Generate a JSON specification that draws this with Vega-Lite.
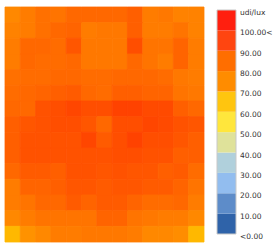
{
  "$schema": "https://vega.github.io/schema/vega-lite/v6.json",
  "padding": {"left": 4, "top": 6, "right": 0, "bottom": 0},
  "spacing": 11,
  "config": {"view": {"stroke": null}, "font": "DejaVu Sans"},
  "resolve": {"scale": {"color": "independent", "x": "independent", "y": "independent"}},
  "hconcat": [
    {
      "width": 199,
      "height": 235,
      "data": {"values": [
        {"r":1,"c":1,"v":78},{"r":1,"c":2,"v":80},{"r":1,"c":3,"v":83},{"r":1,"c":4,"v":82},{"r":1,"c":5,"v":85},{"r":1,"c":6,"v":85},{"r":1,"c":7,"v":85},{"r":1,"c":8,"v":85},{"r":1,"c":9,"v":87},{"r":1,"c":10,"v":80},{"r":1,"c":11,"v":81},{"r":1,"c":12,"v":79},{"r":1,"c":13,"v":79},
        {"r":2,"c":1,"v":79},{"r":2,"c":2,"v":80},{"r":2,"c":3,"v":83},{"r":2,"c":4,"v":85},{"r":2,"c":5,"v":86},{"r":2,"c":6,"v":80},{"r":2,"c":7,"v":81},{"r":2,"c":8,"v":81},{"r":2,"c":9,"v":87},{"r":2,"c":10,"v":80},{"r":2,"c":11,"v":80},{"r":2,"c":12,"v":82},{"r":2,"c":13,"v":79},
        {"r":3,"c":1,"v":80},{"r":3,"c":2,"v":85},{"r":3,"c":3,"v":85},{"r":3,"c":4,"v":84},{"r":3,"c":5,"v":89},{"r":3,"c":6,"v":81},{"r":3,"c":7,"v":81},{"r":3,"c":8,"v":81},{"r":3,"c":9,"v":91},{"r":3,"c":10,"v":82},{"r":3,"c":11,"v":82},{"r":3,"c":12,"v":86},{"r":3,"c":13,"v":80},
        {"r":4,"c":1,"v":80},{"r":4,"c":2,"v":85},{"r":4,"c":3,"v":84},{"r":4,"c":4,"v":84},{"r":4,"c":5,"v":85},{"r":4,"c":6,"v":81},{"r":4,"c":7,"v":81},{"r":4,"c":8,"v":81},{"r":4,"c":9,"v":85},{"r":4,"c":10,"v":82},{"r":4,"c":11,"v":80},{"r":4,"c":12,"v":86},{"r":4,"c":13,"v":80},
        {"r":5,"c":1,"v":83},{"r":5,"c":2,"v":84},{"r":5,"c":3,"v":84},{"r":5,"c":4,"v":85},{"r":5,"c":5,"v":85},{"r":5,"c":6,"v":84},{"r":5,"c":7,"v":84},{"r":5,"c":8,"v":85},{"r":5,"c":9,"v":85},{"r":5,"c":10,"v":85},{"r":5,"c":11,"v":84},{"r":5,"c":12,"v":81},{"r":5,"c":13,"v":80},
        {"r":6,"c":1,"v":84},{"r":6,"c":2,"v":85},{"r":6,"c":3,"v":86},{"r":6,"c":4,"v":87},{"r":6,"c":5,"v":88},{"r":6,"c":6,"v":85},{"r":6,"c":7,"v":84},{"r":6,"c":8,"v":87},{"r":6,"c":9,"v":87},{"r":6,"c":10,"v":86},{"r":6,"c":11,"v":86},{"r":6,"c":12,"v":82},{"r":6,"c":13,"v":81},
        {"r":7,"c":1,"v":85},{"r":7,"c":2,"v":85},{"r":7,"c":3,"v":90},{"r":7,"c":4,"v":91},{"r":7,"c":5,"v":93},{"r":7,"c":6,"v":91},{"r":7,"c":7,"v":91},{"r":7,"c":8,"v":94},{"r":7,"c":9,"v":94},{"r":7,"c":10,"v":92},{"r":7,"c":11,"v":92},{"r":7,"c":12,"v":87},{"r":7,"c":13,"v":85},
        {"r":8,"c":1,"v":87},{"r":8,"c":2,"v":89},{"r":8,"c":3,"v":90},{"r":8,"c":4,"v":91},{"r":8,"c":5,"v":91},{"r":8,"c":6,"v":89},{"r":8,"c":7,"v":85},{"r":8,"c":8,"v":91},{"r":8,"c":9,"v":91},{"r":8,"c":10,"v":93},{"r":8,"c":11,"v":92},{"r":8,"c":12,"v":90},{"r":8,"c":13,"v":89},
        {"r":9,"c":1,"v":87},{"r":9,"c":2,"v":90},{"r":9,"c":3,"v":90},{"r":9,"c":4,"v":90},{"r":9,"c":5,"v":90},{"r":9,"c":6,"v":93},{"r":9,"c":7,"v":88},{"r":9,"c":8,"v":91},{"r":9,"c":9,"v":94},{"r":9,"c":10,"v":91},{"r":9,"c":11,"v":91},{"r":9,"c":12,"v":89},{"r":9,"c":13,"v":87},
        {"r":10,"c":1,"v":87},{"r":10,"c":2,"v":90},{"r":10,"c":3,"v":90},{"r":10,"c":4,"v":90},{"r":10,"c":5,"v":90},{"r":10,"c":6,"v":90},{"r":10,"c":7,"v":90},{"r":10,"c":8,"v":91},{"r":10,"c":9,"v":91},{"r":10,"c":10,"v":90},{"r":10,"c":11,"v":90},{"r":10,"c":12,"v":87},{"r":10,"c":13,"v":87},
        {"r":11,"c":1,"v":85},{"r":11,"c":2,"v":88},{"r":11,"c":3,"v":88},{"r":11,"c":4,"v":87},{"r":11,"c":5,"v":90},{"r":11,"c":6,"v":90},{"r":11,"c":7,"v":89},{"r":11,"c":8,"v":90},{"r":11,"c":9,"v":89},{"r":11,"c":10,"v":89},{"r":11,"c":11,"v":87},{"r":11,"c":12,"v":88},{"r":11,"c":13,"v":84},
        {"r":12,"c":1,"v":80},{"r":12,"c":2,"v":86},{"r":12,"c":3,"v":86},{"r":12,"c":4,"v":87},{"r":12,"c":5,"v":89},{"r":12,"c":6,"v":89},{"r":12,"c":7,"v":88},{"r":12,"c":8,"v":89},{"r":12,"c":9,"v":89},{"r":12,"c":10,"v":88},{"r":12,"c":11,"v":88},{"r":12,"c":12,"v":86},{"r":12,"c":13,"v":82},
        {"r":13,"c":1,"v":80},{"r":13,"c":2,"v":82},{"r":13,"c":3,"v":85},{"r":13,"c":4,"v":85},{"r":13,"c":5,"v":88},{"r":13,"c":6,"v":86},{"r":13,"c":7,"v":88},{"r":13,"c":8,"v":88},{"r":13,"c":9,"v":86},{"r":13,"c":10,"v":84},{"r":13,"c":11,"v":84},{"r":13,"c":12,"v":85},{"r":13,"c":13,"v":80},
        {"r":14,"c":1,"v":78},{"r":14,"c":2,"v":80},{"r":14,"c":3,"v":82},{"r":14,"c":4,"v":82},{"r":14,"c":5,"v":82},{"r":14,"c":6,"v":82},{"r":14,"c":7,"v":86},{"r":14,"c":8,"v":86},{"r":14,"c":9,"v":82},{"r":14,"c":10,"v":81},{"r":14,"c":11,"v":80},{"r":14,"c":12,"v":80},{"r":14,"c":13,"v":78},
        {"r":15,"c":1,"v":68},{"r":15,"c":2,"v":76},{"r":15,"c":3,"v":78},{"r":15,"c":4,"v":80},{"r":15,"c":5,"v":80},{"r":15,"c":6,"v":81},{"r":15,"c":7,"v":81},{"r":15,"c":8,"v":81},{"r":15,"c":9,"v":80},{"r":15,"c":10,"v":78},{"r":15,"c":11,"v":78},{"r":15,"c":12,"v":77},{"r":15,"c":13,"v":68}
      ]},
      "mark": {"type": "rect", "strokeWidth": 0.8},
      "encoding": {
        "x": {"field": "c", "type": "ordinal", "axis": null, "scale": {"paddingInner": 0, "paddingOuter": 0}},
        "y": {"field": "r", "type": "ordinal", "axis": null, "scale": {"paddingInner": 0, "paddingOuter": 0}},
        "fill": {
          "field": "v", "type": "quantitative", "legend": null,
          "scale": {
            "domain": [68, 78, 80, 85, 90, 95],
            "range": ["#ffb800", "#ff8800", "#ff7c00", "#ff6800", "#ff5200", "#ff3e00"],
            "interpolate": "rgb"
          }
        },
        "stroke": {
          "field": "v", "type": "quantitative", "legend": null,
          "scale": {
            "domain": [68, 78, 80, 85, 90, 95],
            "range": ["#ffb800", "#ff8800", "#ff7c00", "#ff6800", "#ff5200", "#ff3e00"],
            "interpolate": "rgb"
          }
        }
      }
    },
    {
      "width": 19,
      "height": 235,
      "layer": [
        {
          "data": {"values": [
            {"band": "b0", "lo": 0, "hi": 1},
            {"band": "b1", "lo": 1, "hi": 2},
            {"band": "b2", "lo": 2, "hi": 3},
            {"band": "b3", "lo": 3, "hi": 4},
            {"band": "b4", "lo": 4, "hi": 5},
            {"band": "b5", "lo": 5, "hi": 6},
            {"band": "b6", "lo": 6, "hi": 7},
            {"band": "b7", "lo": 7, "hi": 8},
            {"band": "b8", "lo": 8, "hi": 9},
            {"band": "b9", "lo": 9, "hi": 10},
            {"band": "b10", "lo": 10, "hi": 11}
          ]},
          "mark": {"type": "rect"},
          "encoding": {
            "x": {"datum": 0, "type": "quantitative", "axis": null, "scale": {"domain": [0, 1], "nice": false, "zero": false}},
            "x2": {"datum": 1},
            "y": {"field": "lo", "type": "quantitative", "axis": null, "scale": {"domain": [-0.393, 11.147], "nice": false, "zero": false}},
            "y2": {"field": "hi"},
            "color": {
              "field": "band", "type": "nominal", "legend": null,
              "scale": {
                "domain": ["b0","b1","b2","b3","b4","b5","b6","b7","b8","b9","b10"],
                "range": ["#2f63a9","#5d8cc9","#92bdef","#b0d0dc","#dfe29a","#ffe63c","#ffc50f","#ff8c00","#ff6e00","#ff4510","#ff1f0f"]
              }
            }
          }
        },
        {
          "data": {"values": [{"lo": 0, "hi": 11}]},
          "mark": {"type": "rect", "filled": false, "stroke": "#c8c8c8", "strokeWidth": 1},
          "encoding": {
            "x": {"datum": 0, "type": "quantitative"},
            "x2": {"datum": 1},
            "y": {"field": "lo", "type": "quantitative"},
            "y2": {"field": "hi"}
          }
        },
        {
          "data": {"values": [
            {"pos": 11, "label": "udi/lux"},
            {"pos": 10, "label": "100.00<"},
            {"pos": 9, "label": "90.00"},
            {"pos": 8, "label": "80.00"},
            {"pos": 7, "label": "70.00"},
            {"pos": 6, "label": "60.00"},
            {"pos": 5, "label": "50.00"},
            {"pos": 4, "label": "40.00"},
            {"pos": 3, "label": "30.00"},
            {"pos": 2, "label": "20.00"},
            {"pos": 1, "label": "10.00"},
            {"pos": 0, "label": "<0.00"}
          ]},
          "mark": {"type": "text", "align": "left", "baseline": "middle", "dx": 4, "dy": 3, "fontSize": 7.5, "color": "#333333"},
          "encoding": {
            "x": {"datum": 1, "type": "quantitative"},
            "y": {"field": "pos", "type": "quantitative"},
            "text": {"field": "label"}
          }
        }
      ]
    }
  ]
}
